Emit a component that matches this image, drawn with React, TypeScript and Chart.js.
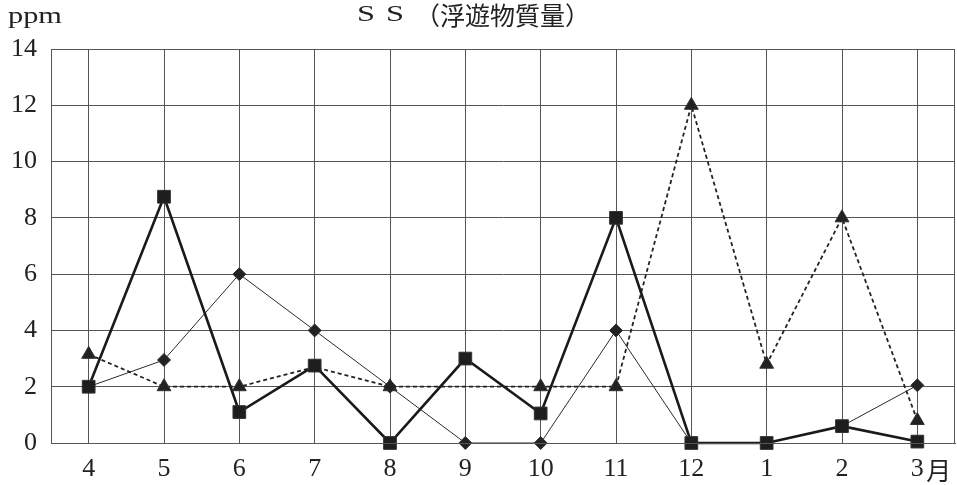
import React, { useEffect, useRef } from 'react';
import { Chart, registerables } from 'chart.js';

Chart.register(...registerables);

const months = ['4', '5', '6', '7', '8', '9', '10', '11', '12', '1', '2', '3'];
const monthUnit = '月';
const squareSeries = [2.0, 8.75, 1.1, 2.75, 0, 3.0, 1.05, 8.0, 0, 0, 0.6, 0.05];
const diamondSeries = [2.0, 2.95, 6.0, 4.0, 2.0, 0, 0, 4.0, 0, 0, 0.6, 2.05];
const triangleSeries: (number | null)[] = [3.15, 2.0, 2.0, 2.7, 2.0, null, 2.0, 2.0, 12.0, 2.8, 8.0, 0.8];
const yMin = 0;
const yMax = 14;
const yStep = 2;
const titleLatin = ['S', 'S'];
const titleCJK = '（浮遊物質量）';
const unitText = 'ppm';

const FONT = '"Liberation Serif", "Noto Sans CJK JP", serif';
const CJK = '"Noto Sans CJK JP", sans-serif';

function drawFitted(ctx: CanvasRenderingContext2D, text: string, x: number, y: number, width: number) {
  const w = ctx.measureText(text).width;
  ctx.save();
  ctx.translate(x, y);
  ctx.scale(width / w, 1);
  ctx.fillText(text, 0, 0);
  ctx.restore();
}

const framePlugin = {
  id: 'frameAndText',
  afterDraw(chart: any) {
    const { ctx, chartArea } = chart;
    ctx.save();
    ctx.strokeStyle = '#555';
    ctx.lineWidth = 1;
    ctx.strokeRect(
      Math.round(chartArea.left) + 0.5,
      Math.round(chartArea.top) + 0.5,
      Math.round(chartArea.right - chartArea.left) - 1,
      Math.round(chartArea.bottom - chartArea.top)
    );
    ctx.fillStyle = '#222';
    ctx.textBaseline = 'alphabetic';
    ctx.textAlign = 'left';
    // title
    ctx.font = `24px ${FONT}`;
    drawFitted(ctx, titleLatin[0], 357, 21, 18);
    drawFitted(ctx, titleLatin[1], 386, 21, 18);
    ctx.font = `25px ${CJK}`;
    ctx.fillText(titleCJK, 415, 25);
    // unit
    ctx.font = `24px ${FONT}`;
    drawFitted(ctx, unitText, 8, 23, 54);
    // month unit after last x label
    const xs = chart.scales.x;
    const lastX = xs.getPixelForValue(months.length - 1);
    ctx.font = `25px ${CJK}`;
    ctx.textBaseline = 'middle';
    ctx.fillText(monthUnit, lastX + 9, 470);
    ctx.restore();
  },
};

export default function App() {
  const ref = useRef<HTMLCanvasElement | null>(null);
  useEffect(() => {
    if (!ref.current) return;
    const chart = new Chart(ref.current, {
      type: 'line',
      data: {
        labels: months,
        datasets: [
          {
            label: 'square',
            data: squareSeries,
            borderColor: '#1a1a1a',
            backgroundColor: '#1a1a1a',
            borderWidth: 2.6,
            pointStyle: 'rect',
            pointRadius: 9,
            pointBorderWidth: 1,
            pointBorderColor: '#333',
            pointBackgroundColor: '#1e1e1e',
            tension: 0,
            clip: false,
            order: 1,
          } as any,
          {
            label: 'diamond',
            data: diamondSeries,
            borderColor: '#2a2a2a',
            backgroundColor: '#2a2a2a',
            borderWidth: 1,
            pointStyle: 'rectRot',
            pointRadius: 6.5,
            pointBorderWidth: 1,
            pointBackgroundColor: '#222',
            pointBorderColor: '#333',
            tension: 0,
            clip: false,
            order: 2,
          } as any,
          {
            label: 'triangle',
            data: triangleSeries,
            borderColor: '#222',
            backgroundColor: '#222',
            borderWidth: 1.8,
            borderDash: [4, 3],
            pointStyle: 'triangle',
            pointRadius: 8,
            pointBorderWidth: 1,
            pointBackgroundColor: '#222',
            pointBorderColor: '#333',
            spanGaps: true,
            tension: 0,
            clip: false,
            order: 3,
          } as any,
        ],
      },
      options: {
        responsive: false,
        animation: false,
        layout: { autoPadding: false, padding: { top: 49, right: 2, left: 0, bottom: 0 } },
        plugins: {
          legend: { display: false },
          title: { display: false },
          tooltip: { enabled: false },
        },
        scales: {
          x: {
            type: 'category',
            offset: true,
            grid: {
              offset: false,
              color: '#555',
              lineWidth: 1,
              drawTicks: false,
            },
            border: { display: true, color: '#555' },
            ticks: {
              color: '#222',
              font: { family: FONT, size: 26 },
              padding: 11,
              maxRotation: 0,
              autoSkip: false,
            },
            afterFit: (s: any) => {
              s.height = 42;
              s.paddingLeft = 0;
              s.paddingRight = 0;
            },
          },
          y: {
            min: yMin,
            max: yMax,
            grid: { color: '#555', lineWidth: 1, drawTicks: false },
            border: { display: true, color: '#555' },
            ticks: {
              stepSize: yStep,
              color: '#222',
              font: { family: FONT, size: 26 },
              padding: 14,
            },
            afterFit: (s: any) => {
              s.width = 51;
              s.paddingTop = 0;
              s.paddingBottom = 0;
            },
          },
        },
      },
      plugins: [framePlugin],
    });
    return () => chart.destroy();
  }, []);
  return (
    <div style={{ position: 'absolute', left: 0, top: 0, width: 957, height: 485, background: '#fff' }}>
      <canvas ref={ref} width={957} height={485} style={{ display: 'block' }} />
    </div>
  );
}
